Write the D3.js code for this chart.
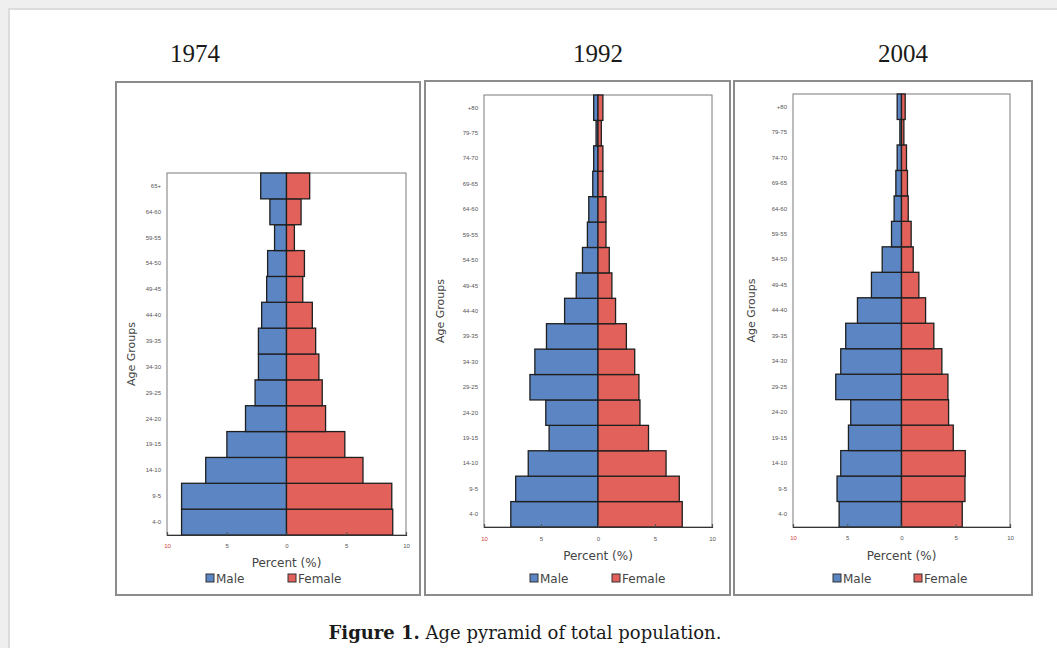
<!DOCTYPE html>
<html>
<head>
<meta charset="utf-8">
<script src="https://cdn.jsdelivr.net/npm/d3@7"></script>
<style>
  html, body { margin: 0; padding: 0; background: #efefef; }
  svg { display: block; }
</style>
</head>
<body>
<svg id="chart" width="1057" height="648"></svg>
<script>
// ---------- DATA ----------
const years = ["1974", "1992", "2004"];

const ageGroups1974 = ["4-0","9-5","14-10","19-15","24-20","29-25","34-30","39-35","44-40","49-45","54-50","59-55","64-60","65+"];
const male1974   = [8.78, 8.78, 6.76, 4.99, 3.43, 2.63, 2.35, 2.35, 2.08, 1.66, 1.58, 1.00, 1.39, 2.16];
const female1974 = [8.89, 8.81, 6.40, 4.88, 3.27, 2.99, 2.71, 2.44, 2.16, 1.36, 1.50, 0.66, 1.22, 1.94];

const ageGroups1992 = ["4-0","9-5","14-10","19-15","24-20","29-25","34-30","39-35","44-40","49-45","54-50","59-55","64-60","69-65","74-70","79-75","+80"];
const male1992   = [7.65, 7.22, 6.12, 4.29, 4.58, 5.97, 5.54, 4.52, 2.93, 1.91, 1.36, 0.93, 0.81, 0.46, 0.38, 0.17, 0.38];
const female1992 = [7.39, 7.13, 5.97, 4.43, 3.68, 3.59, 3.22, 2.49, 1.54, 1.22, 0.99, 0.70, 0.70, 0.43, 0.43, 0.29, 0.43];

const ageGroups2004 = ["4-0","9-5","14-10","19-15","24-20","29-25","34-30","39-35","44-40","49-45","54-50","59-55","64-60","69-65","74-70","79-75","+80"];
const male2004   = [5.75, 5.94, 5.60, 4.89, 4.68, 6.06, 5.60, 5.14, 4.06, 2.77, 1.78, 0.92, 0.68, 0.52, 0.40, 0.15, 0.40];
const female2004 = [5.60, 5.85, 5.88, 4.77, 4.34, 4.28, 3.72, 2.98, 2.22, 1.60, 1.08, 0.89, 0.62, 0.55, 0.46, 0.22, 0.34];

const tickValues = [-10, -5, 0, 5, 10];
const tickLabels = ["10", "5", "0", "5", "10"];
const legendLabels = ["Male", "Female"];
const xAxisTitle = "Percent (%)";
const yAxisTitle = "Age Groups";
const captionBold = "Figure 1.";
const captionText = " Age pyramid of total population.";

// ---------- LAYOUT ----------
const COLORS = { male: "#5b86c3", female: "#e2615a" };
const svg = d3.select("#chart");

svg.append("rect").attr("x", 0).attr("y", 0).attr("width", 1057).attr("height", 648).attr("fill", "#efefef");
svg.append("rect").attr("x", 9).attr("y", 9).attr("width", 1100).attr("height", 700)
  .attr("fill", "#ffffff").attr("stroke", "#dcdcdc").attr("stroke-width", 2);

const panels = [
  { year: years[0], groups: ageGroups1974, male: male1974, female: female1974,
    box: [116, 82, 304, 513], plot: [167, 173, 406, 535], titleX: 195,
    pctY: 567, legY: 583, legMaleX: 206, legFemaleX: 288, tickY: 548, ylabX: 131 },
  { year: years[1], groups: ageGroups1992, male: male1992, female: female1992,
    box: [425, 81, 305, 514], plot: [484, 95, 712, 527], titleX: 598,
    pctY: 560, legY: 583, legMaleX: 530, legFemaleX: 612, tickY: 541, ylabX: 440 },
  { year: years[2], groups: ageGroups2004, male: male2004, female: female2004,
    box: [734, 81, 298, 514], plot: [793, 94, 1010, 527], titleX: 903,
    pctY: 560, legY: 583, legMaleX: 833, legFemaleX: 914, tickY: 540, ylabX: 751 }
];

panels.forEach(p => {
  const g = svg.append("g");
  // title
  g.append("text").attr("x", p.titleX).attr("y", 62).attr("text-anchor", "middle")
    .attr("font-family", "Liberation Serif, Times New Roman, serif").attr("font-size", 25)
    .attr("fill", "#1a1a1a").text(p.year);
  // outer box
  g.append("rect").attr("x", p.box[0]).attr("y", p.box[1]).attr("width", p.box[2]).attr("height", p.box[3])
    .attr("fill", "#ffffff").attr("stroke", "#8c8c8c").attr("stroke-width", 2);

  const [x0, y0, x1, y1] = p.plot;
  const x = d3.scaleLinear().domain([-10, 10]).range([x0, x1]);
  const y = d3.scaleBand().domain(p.groups).range([y1, y0]).padding(0);

  // plot area
  g.append("rect").attr("x", x0).attr("y", y0).attr("width", x1 - x0).attr("height", y1 - y0)
    .attr("fill", "#ffffff").attr("stroke", "#7a7a7a").attr("stroke-width", 1);

  // male bars
  g.append("g").selectAll("rect").data(p.groups).join("rect")
    .attr("x", (d, i) => x(-p.male[i]))
    .attr("y", d => y(d))
    .attr("width", (d, i) => x(0) - x(-p.male[i]))
    .attr("height", y.bandwidth())
    .attr("fill", COLORS.male).attr("stroke", "#1f1f1f").attr("stroke-width", 1.3);
  // female bars
  g.append("g").selectAll("rect").data(p.groups).join("rect")
    .attr("x", x(0))
    .attr("y", d => y(d))
    .attr("width", (d, i) => x(p.female[i]) - x(0))
    .attr("height", y.bandwidth())
    .attr("fill", COLORS.female).attr("stroke", "#1f1f1f").attr("stroke-width", 1.3);

  // x axis
  const xAxis = d3.axisBottom(x).tickValues(tickValues).tickSize(-3)
    .tickFormat((d, i) => tickLabels[i]);
  const xg = g.append("g").attr("transform", `translate(0,${y1})`).call(xAxis);
  xg.select(".domain").attr("stroke", "#333").attr("stroke-width", 1.2);
  xg.selectAll(".tick line").attr("stroke", "#555");
  xg.selectAll(".tick text").attr("font-family", "Liberation Sans, Arial, sans-serif")
    .attr("font-size", 6).attr("fill", (d, i) => i === 0 ? "#d04040" : "#555")
    .attr("y", null).attr("dy", null)
    .attr("transform", `translate(0,${p.tickY - y1})`);

  // y axis
  const yAxis = d3.axisLeft(y).tickSize(0).tickPadding(6);
  const yg = g.append("g").attr("transform", `translate(${x0},0)`).call(yAxis);
  yg.select(".domain").remove();
  yg.selectAll(".tick text").attr("font-family", "Liberation Sans, Arial, sans-serif")
    .attr("font-size", 6).attr("fill", "#555");

  // y title
  g.append("text").attr("transform", `translate(${p.ylabX},${(y0 + y1) / 2}) rotate(-90)`)
    .attr("text-anchor", "middle").attr("dy", "0.35em")
    .attr("font-family", "DejaVu Sans, sans-serif").attr("font-size", 11).attr("fill", "#444")
    .text(yAxisTitle);

  // x title
  g.append("text").attr("x", (x0 + x1) / 2).attr("y", p.pctY).attr("text-anchor", "middle")
    .attr("font-family", "DejaVu Sans, sans-serif").attr("font-size", 12).attr("fill", "#444")
    .text(xAxisTitle);

  // legend
  const legX = [p.legMaleX, p.legFemaleX];
  const legC = [COLORS.male, COLORS.female];
  legendLabels.forEach((lab, i) => {
    g.append("rect").attr("x", legX[i]).attr("y", p.legY - 9).attr("width", 8).attr("height", 8)
      .attr("fill", legC[i]).attr("stroke", "#333").attr("stroke-width", 1);
    g.append("text").attr("x", legX[i] + 10).attr("y", p.legY)
      .attr("font-family", "DejaVu Sans, sans-serif").attr("font-size", 12).attr("fill", "#444")
      .text(lab);
  });
});

// caption
const cap = svg.append("text").attr("x", 525).attr("y", 639).attr("text-anchor", "middle")
  .attr("font-family", "DejaVu Serif, serif").attr("font-size", 18).attr("fill", "#1a1a1a");
cap.append("tspan").attr("font-weight", "bold").text(captionBold);
cap.append("tspan").text(captionText);
</script>
</body>
</html>
